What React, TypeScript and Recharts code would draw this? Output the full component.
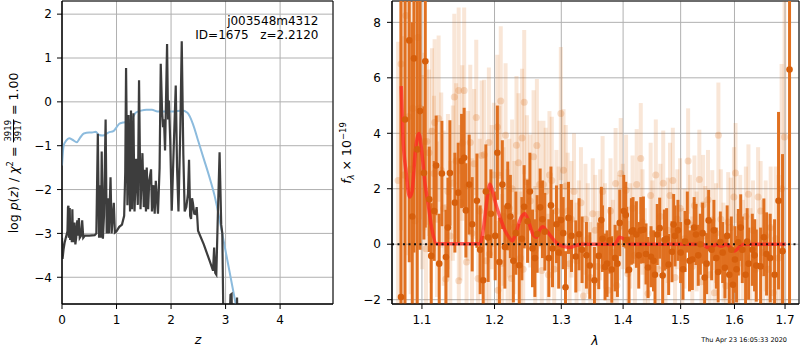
import React from 'react'
import {
  CartesianGrid,
  ComposedChart,
  ErrorBar,
  Line,
  ReferenceArea,
  ReferenceLine,
  Scatter,
  XAxis,
  YAxis,
} from 'recharts'

const FONT = "'DejaVu Sans', sans-serif"

// left panel: log p(z) (dark) and chi2 curve (blue)
const pzRedshift = [
  0, 0.01, 0.03, 0.05, 0.07, 0.09, 0.1, 0.11, 0.118, 0.125,
  0.135, 0.142, 0.15, 0.16, 0.17, 0.18, 0.19, 0.2, 0.215, 0.23,
  0.245, 0.26, 0.28, 0.295, 0.31, 0.325, 0.35, 0.37, 0.39, 0.42,
  0.5, 0.6, 0.63, 0.657, 0.68, 0.7, 0.715, 0.728, 0.75, 0.77,
  0.8, 0.82, 0.84, 0.86, 0.89, 0.91, 0.95, 0.97, 1.0, 1.05,
  1.1, 1.14, 1.16, 1.175, 1.2, 1.22, 1.248, 1.265, 1.285, 1.31,
  1.33, 1.36, 1.39, 1.413, 1.44, 1.475, 1.5, 1.52, 1.54, 1.554,
  1.58, 1.6, 1.633, 1.65, 1.68, 1.7, 1.72, 1.76, 1.79, 1.811,
  1.835, 1.853, 1.87, 1.89, 1.927, 1.945, 1.96, 1.985, 2.013, 2.05,
  2.086, 2.11, 2.136, 2.17, 2.196, 2.225, 2.25, 2.28, 2.31, 2.33,
  2.35, 2.367, 2.385, 2.4, 2.425, 2.45, 2.47, 2.495, 2.6, 2.7,
  2.77, 2.79, 2.81, 2.83, 2.86, 2.89, 2.92, 2.94, 2.97, 3.05,
  3.09, 3.11, 3.13, 3.19, 3.21, 3.23,
]
const pzLogP = [
  -3.1, -3.58, -3.35, -3.2, -3.1, -3.0, -2.95, -2.4, -2.37, -3.1,
  -2.95, -2.42, -3.15, -3.0, -2.85, -3.2, -2.45, -3.1, -3.2, -2.75,
  -3.25, -3.1, -2.7, -3.05, -2.65, -3.1, -3.05, -2.7, -3.1, -3.05,
  -3.05, -3.04, -3.0, -0.73, -3.1, -1.9, -3.1, -1.13, -3.12, -2.6,
  -0.4, -3.0, -2.2, -3.0, -1.72, -3.0, -2.3, -2.98, -2.95, -2.85,
  -2.8, -2.6, -1.6, 0.77, -2.36, -0.3, -2.5, -0.2, -2.45, -0.26,
  -2.5, -1.3, -2.35, 0.49, -2.45, -1.17, -2.4, -1.55, -2.5, -1.5,
  -2.45, -1.8, -1.54, -2.5, -1.9, -2.55, -1.8, -2.55, -1.5, 0.87,
  -0.2, -0.58, -0.4, -1.11, 1.32, -0.4, 0.03, -0.9, -2.48, -1.0,
  0.37, -1.5, -2.5, -0.6, 1.38, -1.2, -2.5, -2.4, -2.1, -1.32,
  -2.6, -2.67, -2.2, -2.3, -2.55, -2.56, -2.4, -2.94, -3.25, -3.6,
  -3.85, -3.32, -3.9, -3.94, -2.5, -1.15, -2.8, -3.0, -6.0, -6.0,
  -4.4, -4.38, -6.0, -6.0, -4.46, -6.0,
]
const chiRedshift = [
  0, 0.03, 0.08, 0.13, 0.2, 0.27, 0.33, 0.4, 0.5, 0.55,
  0.62, 0.67, 0.75, 0.85, 0.95, 1.0, 1.05, 1.12, 1.2, 1.3,
  1.35, 1.45, 1.55, 1.65, 1.75, 1.9, 2.05, 2.2, 2.3, 2.4,
  2.5, 2.6, 2.7, 2.8, 2.9, 3.0, 3.1, 3.2, 3.3,
]
const chiLogP = [
  -1.45, -1.0, -0.88, -0.83, -0.87, -0.92, -0.82, -0.72, -0.7, -0.7,
  -0.68, -0.75, -0.77, -0.7, -0.66, -0.58, -0.5, -0.47, -0.45, -0.35,
  -0.25, -0.2, -0.18, -0.18, -0.22, -0.22, -0.22, -0.2, -0.25, -0.5,
  -0.9, -1.3, -1.7, -2.15, -2.75, -3.4, -4.05, -4.7, -5.3,
]
const zTicks = [0, 1, 2, 3, 4]
const logpTicks = [-4, -3, -2, -1, 0, 1, 2]

// right panel: spectrum, um and 1e-19 flux units
const solidWave = [
  1.0727, 1.0779, 1.0834, 1.0873, 1.0895, 1.0938, 1.0974, 1.1026, 1.1044, 1.1097,
  1.1123, 1.1163, 1.1189, 1.123, 1.1266, 1.1321, 1.1348, 1.1375, 1.1443, 1.1489,
  1.1535, 1.1571, 1.1595, 1.1641, 1.1683, 1.1749, 1.1795, 1.1838, 1.1876, 1.1909,
  1.1948, 1.2041, 1.207, 1.2113, 1.2192, 1.2274, 1.2311, 1.2361, 1.2434, 1.2485,
  1.2559, 1.2629, 1.2675, 1.2746, 1.2807, 1.2864, 1.2925, 1.2997, 1.3066, 1.3113,
  1.316, 1.3228, 1.328, 1.3328, 1.3398, 1.3452, 1.3527, 1.3597, 1.3658, 1.3733,
  1.3811, 1.3866, 1.3944, 1.4011, 1.4062, 1.41, 1.4168, 1.4265, 1.4345, 1.4425,
  1.4477, 1.4546, 1.4628, 1.4711, 1.4786, 1.4845, 1.4899, 1.4952, 1.5042, 1.5121,
  1.5212, 1.5278, 1.5359, 1.5438, 1.5512, 1.5568, 1.5656, 1.5731, 1.5818, 1.5901,
  1.5971, 1.6009, 1.6074, 1.6151, 1.6215, 1.6273, 1.6346, 1.6424, 1.6509, 1.6574,
  1.6628, 1.6701, 1.6788, 1.6868, 1.6949, 1.7092,
  1.364, 1.37, 1.3778, 1.3905, 1.4045, 1.414, 1.4225, 1.43, 1.439, 1.452,
  1.4585, 1.468, 1.475, 1.4875, 1.5, 1.508, 1.516, 1.5245, 1.532, 1.54,
  1.5475, 1.561, 1.569, 1.5775, 1.586, 1.594, 1.604, 1.612, 1.6245, 1.639,
  1.201, 1.215, 1.223, 1.24, 1.252, 1.2595, 1.271, 1.284, 1.296, 1.303,
]
const solidFlux = [
  -1.9, 4.5, 7.35, 1.0, 6.7, 3.42, 4.8, 2.57, 6.6, 1.62,
  -0.42, 1.2, 2.84, -0.7, 2.55, -0.46, 0.6, 2.57, 1.5, 1.86,
  3.0, 3.12, 1.22, 2.15, 0.72, 1.57, -0.2, -1.3, 1.9, 0.24,
  1.1, 3.3, -0.64, 2.15, 1.38, -0.6, 0.4, -0.76, 1.35, 0.83,
  -0.15, 0.37, 1.33, 0.45, -0.5, -0.15, 0.72, 0.87, -1.55, 0.95,
  0.3, -0.44, 0.36, -0.2, -0.4, -0.77, -1.3, -0.42, 0.2, -0.7,
  -0.91, -0.5, 0.77, 1.2, 0.15, -0.92, 0.5, -0.4, 0.52, -0.84,
  -0.45, -1.1, 0.58, 0.15, -0.73, -0.27, 0.3, 0.5, -0.9, 0.8,
  -0.55, 0.35, 0, -1.2, 0.86, -0.2, -0.5, 0.08, -0.85, -1.1,
  -1.46, -0.55, 0.07, -0.2, -1.1, -0.7, -0.2, -0.77, -0.8, 0.25,
  -0.35, -0.5, -1.1, 1.57, -0.25, 6.3,
  0.87, -0.82, 0.14, -0.7, 1.05, 0.46, 0.35, 0.5, -0.35, -0.6,
  0.35, -1.13, 0.2, 0.71, -0.3, 0.1, -0.6, 0.6, -0.4, 0.4,
  -0.7, 0.5, -1.0, -0.3, 0.3, -0.2, -0.9, 0.6, 0.1, -0.4,
  0.3, -0.1, 1.0, 0.2, 1.9, -0.5, 0.9, 1.4, -0.3, 0.4,
]
const solidErr = [
  12, 9, 8, 7, 7, 6, 5, 2.4, 6, 1.9,
  1.9, 1.8, 1.8, 1.8, 1.9, 1.7, 1.8, 1.9, 1.8, 1.8,
  1.7, 1.8, 1.7, 1.8, 1.7, 1.7, 1.6, 1.6, 1.7, 1.6,
  1.6, 1.7, 1.6, 1.6, 1.6, 1.5, 1.5, 1.5, 1.5, 1.5,
  1.4, 1.4, 1.4, 1.4, 1.4, 1.4, 1.4, 1.3, 1.3, 1.3,
  1.3, 1.3, 1.3, 1.2, 1.2, 1.2, 1.2, 1.2, 1.2, 1.2,
  1.2, 1.2, 1.2, 1.3, 1.2, 1.2, 1.2, 1.2, 1.2, 1.1,
  1.1, 1.1, 1.1, 1.1, 1.1, 1.1, 1.1, 1.1, 1.1, 1.1,
  1.1, 1.1, 1.1, 1.1, 1.1, 1.1, 1.1, 1.1, 1.1, 1.1,
  1.2, 1.2, 1.2, 1.2, 1.2, 1.3, 1.3, 1.3, 1.4, 1.4,
  1.5, 1.6, 2.0, 3.2, 3.5, 20,
  1.2, 1.2, 1.2, 1.2, 1.2, 1.2, 1.2, 1.2, 1.1, 1.1,
  1.1, 1.1, 1.1, 1.1, 1.1, 1.1, 1.1, 1.1, 1.1, 1.1,
  1.1, 1.1, 1.1, 1.1, 1.1, 1.2, 1.2, 1.2, 1.2, 1.3,
  1.6, 1.5, 1.5, 1.5, 1.4, 1.4, 1.4, 1.4, 1.3, 1.3,
]

const faintWave = [
  1.069, 1.0727, 1.076, 1.079, 1.082, 1.0852, 1.088, 1.091, 1.0945, 1.0975,
  1.1003, 1.1032, 1.1053, 1.1066, 1.1093, 1.1119, 1.1133, 1.116, 1.1168, 1.12,
  1.1222, 1.1257, 1.129, 1.132, 1.1348, 1.138, 1.1415, 1.1435, 1.146, 1.1495,
  1.1497, 1.152, 1.1545, 1.1571, 1.1604, 1.1625, 1.1656, 1.168, 1.171, 1.174,
  1.1765, 1.179, 1.1815, 1.1852, 1.188, 1.1919, 1.1925, 1.196, 1.199, 1.204,
  1.205, 1.207, 1.209, 1.211, 1.213, 1.216, 1.219, 1.2215, 1.2245, 1.2256,
  1.229, 1.232, 1.235, 1.238, 1.2403, 1.242, 1.2435, 1.2475, 1.2525, 1.2575,
  1.26, 1.2625, 1.2665, 1.27, 1.2725, 1.276, 1.28, 1.2817, 1.2853, 1.289,
  1.2925, 1.2958, 1.2993, 1.3035, 1.307, 1.31, 1.313, 1.316, 1.32, 1.324,
  1.3275, 1.331, 1.335, 1.3382, 1.342, 1.346, 1.35, 1.354, 1.358, 1.362,
  1.366, 1.37, 1.375, 1.379, 1.383, 1.3875, 1.3895, 1.393, 1.396, 1.3995,
  1.405, 1.408, 1.412, 1.416, 1.42, 1.423, 1.43, 1.433, 1.437, 1.4425,
  1.447, 1.45, 1.456, 1.46, 1.464, 1.469, 1.473, 1.477, 1.481, 1.486,
  1.49, 1.494, 1.499, 1.503, 1.507, 1.5135, 1.517, 1.521, 1.525, 1.529,
  1.534, 1.538, 1.541, 1.545, 1.55, 1.553, 1.558, 1.562, 1.565, 1.5695,
  1.574, 1.579, 1.5835, 1.588, 1.593, 1.599, 1.602, 1.607, 1.611, 1.616,
  1.622, 1.627, 1.631, 1.636, 1.641, 1.646, 1.651, 1.656, 1.661, 1.666,
  1.671, 1.676, 1.681, 1.687, 1.693, 1.699,
]
const faintFlux = [
  2.3, 6.5, 2.5, 8.25, 4.6, 2.7, 4.9, 0.85, 7.45, 4.9,
  2.6, 3.7, -0.16, 3.7, 3.3, 1.4, 4.07, 2.55, 4.39, 0.9,
  4.53, 2.67, 1.3, -1.25, 1.9, 0.3, 2.2, 5.31, 3.0, 5.54,
  -1.32, 1.5, 3.65, 5.54, -0.64, 2.1, 3.67, 0.4, 2.9, 4.57,
  -1.24, 1.2, 3.2, 3.23, -0.6, 3.67, -0.35, 1.7, 2.5, 4.23,
  -1.66, 2.49, 5.16, -0.69, 1.0, 3.93, 0.2, 1.3, -1.24, 2.0,
  0.6, 3.57, 2.94, -0.5, 3.83, -0.9, 5.12, 2.25, 1.56, 3.15,
  -0.2, 3.56, 2.15, -0.95, 2.15, 1.9, -1.1, 2.5, 2.3, -0.9,
  1.2, 0.6, 4.71, 2.67, 2.1, 1.2, -0.7, 0.9, 1.9, -0.6,
  0.3, 1.5, -1.87, 0.9, 0.2, -1.2, 1.1, 0.5, -0.8, 0.7,
  1.9, 0.3, -1.66, 1.2, -0.3, 2.19, -1.49, 0.6, 2.55, 1.0,
  1.95, -1.06, 0.3, 1.3, -0.4, 2.15, 3.09, 0.8, -0.6, -1.78,
  1.76, 0.4, 2.5, -0.9, 1.0, 2.2, -0.7, 0.5, 1.76, 2.3,
  -1.2, 0.9, 1.3, -0.5, 0.2, 3.0, 0.7, -0.8, 1.4, 0.1,
  2.33, -1.35, 1.42, 0.3, 1.6, -1.1, 0.87, -1.75, 0.4, 3.93,
  0.9, -0.3, -1.5, 0.8, 0.6, 1.7, 2.57, -0.7, 0.7, -0.2,
  1.0, 1.8, -0.5, 0.5, -0.9, 1.7, 1.2, -0.3, 0.3, -0.9,
  0.6, -1.75, 0.2, -0.5, 2.0, 3.87,
]
const faintErr = [
  5, 6, 5, 6, 5, 4.5, 5, 4, 5, 4,
  3.5, 3.2, 2.8, 3.0, 3.0, 2.8, 3.0, 2.8, 3.0, 2.8,
  3.0, 2.8, 2.8, 2.7, 2.8, 2.7, 2.8, 3.0, 2.8, 3.0,
  2.7, 2.8, 2.8, 3.0, 2.6, 2.7, 2.8, 2.7, 2.7, 2.8,
  2.6, 2.6, 2.7, 2.7, 2.6, 2.7, 2.6, 2.6, 2.6, 2.6,
  2.5, 2.5, 2.7, 2.5, 2.5, 2.6, 2.5, 2.5, 2.4, 2.5,
  2.4, 2.5, 2.5, 2.4, 2.5, 2.4, 2.6, 2.4, 2.4, 2.4,
  2.3, 2.4, 2.3, 2.3, 2.3, 2.3, 2.2, 2.3, 2.3, 2.2,
  2.2, 2.2, 2.4, 2.2, 2.2, 2.1, 2.1, 2.1, 2.1, 2.1,
  2.0, 2.0, 2.0, 2.0, 2.0, 2.0, 2.0, 2.0, 2.0, 2.0,
  2.0, 1.9, 1.9, 1.9, 1.9, 2.0, 1.9, 1.9, 2.0, 1.9,
  2.0, 1.9, 1.9, 1.9, 1.9, 2.0, 2.0, 1.9, 1.9, 1.9,
  1.9, 1.9, 2.0, 1.9, 1.9, 1.9, 1.9, 1.9, 1.9, 1.9,
  1.8, 1.8, 1.8, 1.8, 1.8, 1.9, 1.8, 1.8, 1.8, 1.8,
  1.8, 1.8, 1.8, 1.8, 1.8, 1.8, 1.8, 1.8, 1.8, 1.9,
  1.8, 1.8, 1.8, 1.8, 1.8, 1.8, 1.8, 1.8, 1.8, 1.8,
  1.8, 1.8, 1.8, 1.8, 1.8, 1.8, 1.8, 1.9, 2.0, 2.0,
  2.2, 2.4, 2.6, 3.0, 4.5, 6,
]

const modelWave = [
  1.073, 1.075, 1.0795, 1.0838, 1.087, 1.0915, 1.096, 1.1005, 1.104, 1.108,
  1.1135, 1.1195, 1.179, 1.1845, 1.189, 1.1935, 1.198, 1.203, 1.2078, 1.215,
  1.2223, 1.2262, 1.2321, 1.2395, 1.2444, 1.2493, 1.2559, 1.262, 1.2666, 1.2717,
  1.2768, 1.2845, 1.2922, 1.3025, 1.3129, 1.3235, 1.3319, 1.386, 1.3943, 1.4027,
  1.4112, 1.5406, 1.5499, 1.5576, 1.5654, 1.5748, 1.5843, 1.5938, 1.6002, 1.6097,
  1.6174, 1.7016,
]
const modelFlux = [
  5.7, 4.0, 2.55, 1.7, 1.9, 3.39, 3.99, 3.15, 2.2, 1.5,
  0.5, 0.02, 0.02, 0.62, 1.58, 2.16, 1.82, 1.35, 0.99, 0.5,
  0.2, 0.12, 0.5, 0.99, 1.1, 0.87, 0.39, 0.25, 0.5, 0.63,
  0.5, 0.27, 0.05, -0.07, -0.12, -0.04, 0, 0, 0.25, 0.17,
  0, 0, -0.12, -0.1, 0, -0.07, 0, -0.16, -0.24, -0.1,
  0, 0,
]
const waveTicks = [1.1, 1.2, 1.3, 1.4, 1.5, 1.6, 1.7]
const fluxTicks = [-2, 0, 2, 4, 6, 8]

const pzData = pzRedshift.map((z, i) => ({ z, v: pzLogP[i] }))
const chiData = chiRedshift.map((z, i) => ({ z, v: chiLogP[i] }))
const solidData = solidWave.map((w, i) => ({ w, f: solidFlux[i], e: solidErr[i] }))
const faintData = faintWave.map((w, i) => ({ w, f: faintFlux[i], e: faintErr[i] }))
const modelData = modelWave.map((w, i) => ({ w, f: modelFlux[i] }))

const Z_DOMAIN: [number, number] = [0, 4.97]
const LOGP_DOMAIN: [number, number] = [-4.61, 2.3]
const WAVE_DOMAIN: [number, number] = [1.0612, 1.7287]
const FLUX_DOMAIN: [number, number] = [-2.155, 8.77]

const ORANGE = '#d96a12'
const minus = (v: number) => String(v).replace('-', '\u2212')
const tickStyle = { fill: '#000', fontSize: 12, fontFamily: FONT }

// error bars stop at the axes box, the way matplotlib clips them
const clippedErr = (d: { f: number; e: number }) => [
  Math.max(0, Math.min(d.e, d.f - FLUX_DOMAIN[0])),
  Math.max(0, Math.min(d.e, FLUX_DOMAIN[1] - d.f)),
]

const solidDot = (p: any) => <circle cx={p.cx} cy={p.cy} r={3.3} fill="#d65f0c" />
const faintDot = (p: any) => (
  <circle cx={p.cx} cy={p.cy} r={3.5} fill={ORANGE} fillOpacity={0.22} />
)

function PzPanel() {
  return (
    <ComposedChart width={340} height={350} margin={{ top: 1, right: 7, bottom: 16, left: 22 }}>
      <CartesianGrid stroke="#b0b0b0" strokeWidth={1} />
      <XAxis
        type="number"
        dataKey="z"
        domain={Z_DOMAIN}
        ticks={zTicks}
        allowDataOverflow
        height={30}
        tickSize={5}
        tickMargin={6}
        stroke="#000"
        tick={tickStyle}
        tickFormatter={minus}
      />
      <YAxis
        type="number"
        dataKey="v"
        domain={LOGP_DOMAIN}
        ticks={logpTicks}
        allowDataOverflow
        width={40}
        tickSize={5}
        tickMargin={5}
        stroke="#000"
        tick={tickStyle}
        tickFormatter={minus}
      />
      <Line
        data={chiData}
        dataKey="v"
        type="monotone"
        stroke="#8cbbdd"
        strokeWidth={2}
        dot={false}
        isAnimationActive={false}
      />
      <Line
        data={pzData}
        dataKey="v"
        type="linear"
        stroke="#3d3d3d"
        strokeWidth={2.2}
        dot={false}
        isAnimationActive={false}
      />
      <ReferenceArea
        x1={Z_DOMAIN[0]}
        x2={Z_DOMAIN[1]}
        y1={LOGP_DOMAIN[0]}
        y2={LOGP_DOMAIN[1]}
        fill="none"
        fillOpacity={0}
        stroke="#000"
        strokeWidth={1}
      />
    </ComposedChart>
  )
}

function SpectrumPanel() {
  return (
    <ComposedChart width={460} height={350} margin={{ top: 1, right: 1, bottom: 16, left: 12 }}>
      <CartesianGrid stroke="#b0b0b0" strokeWidth={1} />
      <XAxis
        type="number"
        dataKey="w"
        scale="log"
        domain={WAVE_DOMAIN}
        ticks={waveTicks}
        allowDataOverflow
        height={30}
        tickSize={5}
        tickMargin={6}
        stroke="#000"
        tick={tickStyle}
      />
      <YAxis
        type="number"
        dataKey="f"
        domain={FLUX_DOMAIN}
        ticks={fluxTicks}
        allowDataOverflow
        width={40}
        tickSize={5}
        tickMargin={6}
        stroke="#000"
        tick={tickStyle}
        tickFormatter={minus}
      />
      <Scatter data={faintData} dataKey="f" shape={faintDot} isAnimationActive={false}>
        <ErrorBar
          dataKey={clippedErr}
          direction="y"
          width={0}
          stroke={ORANGE}
          strokeOpacity={0.17}
          strokeWidth={4}
          isAnimationActive={false}
        />
      </Scatter>
      <Scatter data={solidData} dataKey="f" shape={solidDot} isAnimationActive={false}>
        <ErrorBar
          dataKey={clippedErr}
          direction="y"
          width={0}
          stroke="#e07020"
          strokeWidth={3}
          isAnimationActive={false}
        />
      </Scatter>
      <Line
        data={modelData}
        dataKey="f"
        type="monotone"
        stroke="#ff2222"
        strokeOpacity={0.7}
        strokeWidth={3.5}
        dot={false}
        isAnimationActive={false}
      />
      <ReferenceLine y={0} stroke="#111" strokeWidth={2} strokeDasharray="2 3.5" />
      <ReferenceArea
        x1={WAVE_DOMAIN[0]}
        x2={WAVE_DOMAIN[1]}
        y1={FLUX_DOMAIN[0]}
        y2={FLUX_DOMAIN[1]}
        fill="none"
        fillOpacity={0}
        stroke="#000"
        strokeWidth={1}
      />
    </ComposedChart>
  )
}

export default function App() {
  return (
    <div
      style={{
        position: 'absolute',
        left: 0,
        top: 0,
        width: 800,
        height: 350,
        background: '#fff',
        fontFamily: FONT,
        overflow: 'hidden',
      }}
    >
      <div style={{ position: 'absolute', left: 0, top: 0 }}>
        <PzPanel />
      </div>
      <div style={{ position: 'absolute', left: 340, top: 0 }}>
        <SpectrumPanel />
      </div>

      {/* left y label with the chi2 fraction */}
      <div
        style={{
          position: 'absolute',
          left: 13,
          top: 153,
          transform: 'translate(-50%, -50%) rotate(-90deg)',
          whiteSpace: 'nowrap',
          fontSize: 12.5,
          display: 'flex',
          alignItems: 'center',
          color: '#000',
        }}
      >
        <span>
          log{'\u00a0'}<i>p</i>(<i>z</i>){'\u00a0'}/{'\u00a0'}<i>χ</i>
          <sup style={{ fontSize: 8.5 }}>2</sup>
          {'\u00a0'}={'\u00a0'}
        </span>
        <span
          style={{
            display: 'inline-flex',
            flexDirection: 'column',
            alignItems: 'center',
            fontSize: 8.5,
            lineHeight: 1,
          }}
        >
          <span style={{ borderBottom: '1px solid #000', padding: '0 1px' }}>3919</span>
          <span>3917</span>
        </span>
        <span>{'\u00a0'}={'\u00a0'}1.00</span>
      </div>

      <svg
        width={800}
        height={350}
        style={{ position: 'absolute', left: 0, top: 0, pointerEvents: 'none' }}
        fontFamily={FONT}
      >
        <text x={318.5} y={25} textAnchor="end" fontSize={12}>
          j003548m4312
        </text>
        <text x={318.5} y={38.5} textAnchor="end" fontSize={12} style={{ whiteSpace: 'pre' }}>
          ID=1675   z=2.2120
        </text>
        <text x={198} y={344} textAnchor="middle" fontSize={12.5} fontStyle="italic">
          z
        </text>
        <text x={595} y={345} textAnchor="middle" fontSize={12.5} fontStyle="italic">
          λ
        </text>
        <text transform="translate(351,153) rotate(-90)" textAnchor="middle" fontSize={12.5}>
          <tspan fontStyle="italic">f</tspan>
          <tspan fontStyle="italic" fontSize={8.5} dy={3}>
            λ
          </tspan>
          <tspan dy={-3}>{' × 10'}</tspan>
          <tspan fontSize={8.5} dy={-5}>
            −19
          </tspan>
        </text>
        <text x={787} y={342} textAnchor="end" fontSize={6.5}>
          Thu Apr 23 16:05:33 2020
        </text>
      </svg>
    </div>
  )
}
